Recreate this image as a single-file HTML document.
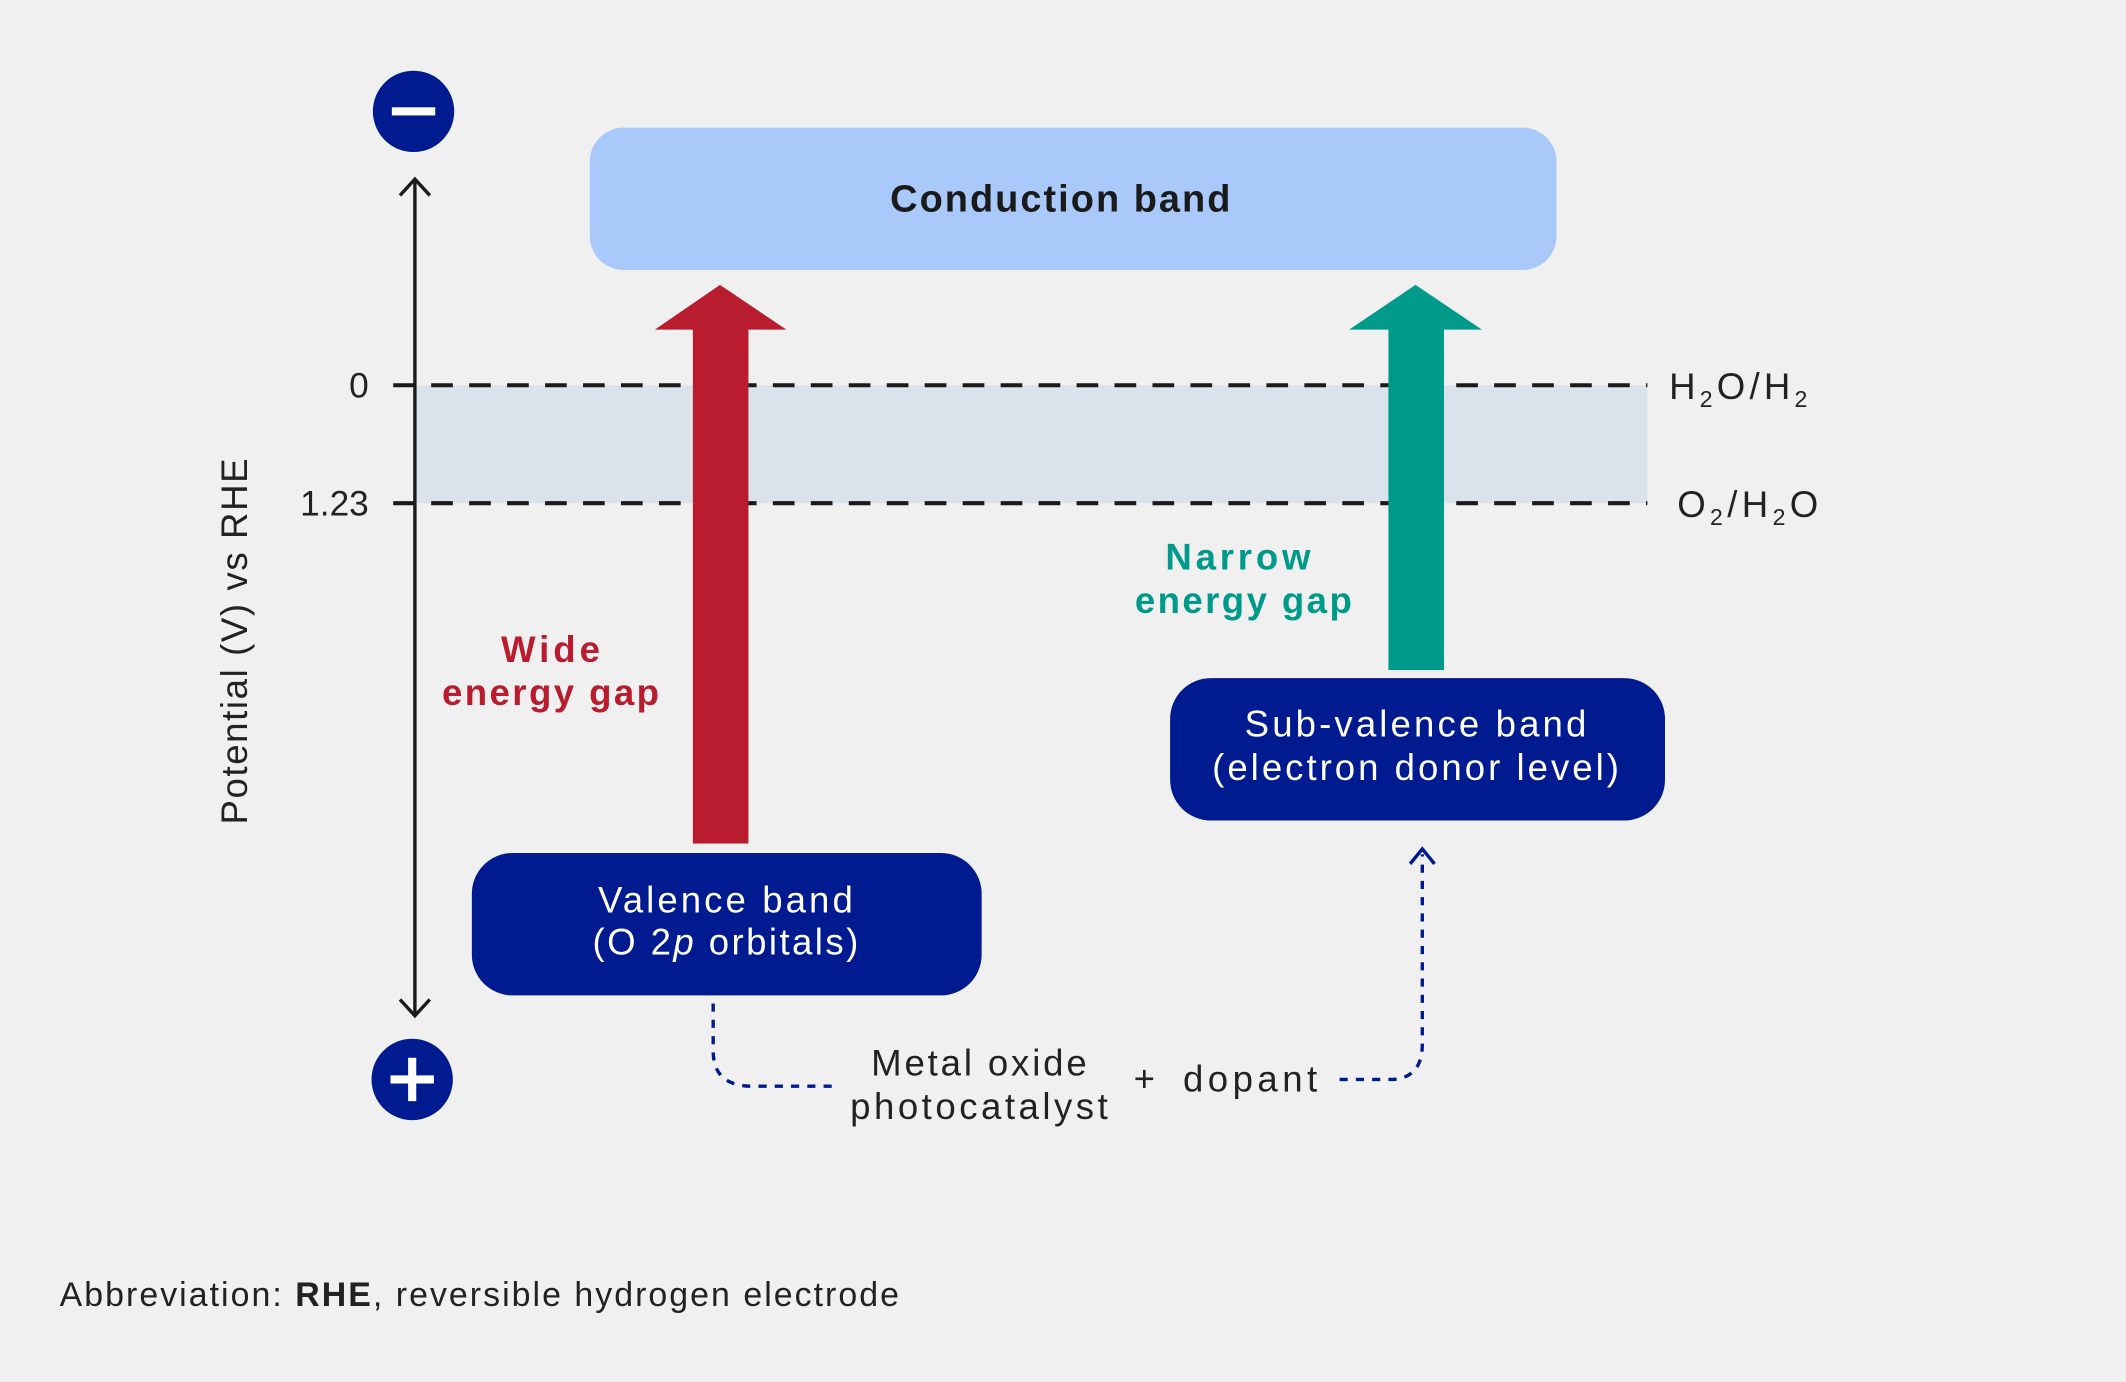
<!DOCTYPE html>
<html><head><meta charset="utf-8"><style>
html,body{margin:0;padding:0;background:#f0f0f0;}
svg{display:block;}
text{font-family:"Liberation Sans",sans-serif;}
</style></head><body>
<svg width="2126" height="1382" viewBox="0 0 1568 1019" xmlns="http://www.w3.org/2000/svg">
<rect width="1568" height="1019" fill="#f0f0f0"/>
<rect x="306" y="284" width="909" height="87" fill="#dae3eb"/>
<line x1="290" y1="284" x2="1215" y2="284" stroke="#1a1a1a" stroke-width="3" stroke-dasharray="16,12"/>
<line x1="290" y1="371" x2="1215" y2="371" stroke="#1a1a1a" stroke-width="3" stroke-dasharray="16,12"/>
<text x="272" y="293" font-size="26" text-anchor="end" fill="#222">0</text>
<text x="272" y="380" font-size="26" text-anchor="end" fill="#222">1.23</text>
<text x="1231" y="294" font-size="27" fill="#222" textLength="102" lengthAdjust="spacing">H<tspan font-size="17" dy="6">2</tspan><tspan dy="-6">O/H</tspan><tspan font-size="17" dy="6">2</tspan></text>
<text x="1237" y="381" font-size="27" fill="#222" textLength="104" lengthAdjust="spacing">O<tspan font-size="17" dy="6">2</tspan><tspan dy="-6">/H</tspan><tspan font-size="17" dy="6">2</tspan><tspan dy="-6">O</tspan></text>
<line x1="306" y1="132" x2="306" y2="748" stroke="#1a1a1a" stroke-width="2.5"/>
<polyline points="295,144 306,132 317,144" fill="none" stroke="#1a1a1a" stroke-width="2.5"/>
<polyline points="295,737 306,749 317,737" fill="none" stroke="#1a1a1a" stroke-width="2.5"/>
<circle cx="305" cy="82" r="30" fill="#001a8f"/>
<rect x="289" y="79" width="32" height="6" fill="#fff"/>
<circle cx="304" cy="796" r="30" fill="#001a8f"/>
<rect x="288" y="793" width="32" height="6" fill="#fff"/>
<rect x="301" y="780" width="6" height="32" fill="#fff"/>
<text transform="translate(182,473) rotate(-90)" font-size="27" text-anchor="middle" fill="#222" textLength="270" lengthAdjust="spacing">Potential (V) vs RHE</text>
<rect x="435" y="94" width="713" height="105" rx="25" fill="#a9c9fb"/>
<text x="782" y="156" font-size="28" font-weight="bold" text-anchor="middle" fill="#1a1a1a" textLength="251" lengthAdjust="spacing">Conduction band</text>
<polygon points="511,622 552,622 552,243 580,243 531,210 483,243 511,243" fill="#b91c2e"/>
<polygon points="1024,494 1065,494 1065,243 1093,243 1044,210 995,243 1024,243" fill="#009a8a"/>
<text x="406" y="488" font-size="27" font-weight="bold" text-anchor="middle" fill="#b91c2e" textLength="73" lengthAdjust="spacing">Wide</text>
<text x="406" y="520" font-size="27" font-weight="bold" text-anchor="middle" fill="#b91c2e" textLength="160" lengthAdjust="spacing">energy gap</text>
<text x="913" y="420" font-size="27" font-weight="bold" text-anchor="middle" fill="#009a8a" textLength="107" lengthAdjust="spacing">Narrow</text>
<text x="917" y="452" font-size="27" font-weight="bold" text-anchor="middle" fill="#009a8a" textLength="160" lengthAdjust="spacing">energy gap</text>
<rect x="348" y="629" width="376" height="105" rx="30" fill="#001a8f"/>
<text x="535" y="673" font-size="27" text-anchor="middle" fill="#fff" textLength="188" lengthAdjust="spacing">Valence band</text>
<text x="535" y="704" font-size="27" text-anchor="middle" fill="#fff" textLength="196" lengthAdjust="spacing">(O 2<tspan font-style="italic">p</tspan> orbitals)</text>
<rect x="863" y="500" width="365" height="105" rx="30" fill="#001a8f"/>
<text x="1044" y="543" font-size="27" text-anchor="middle" fill="#fff" textLength="252" lengthAdjust="spacing">Sub-valence band</text>
<text x="1044" y="575" font-size="27" text-anchor="middle" fill="#fff" textLength="300" lengthAdjust="spacing">(electron donor level)</text>
<path d="M526,740 L526,775 Q526,801 555,801 L615,801" fill="none" stroke="#001a8f" stroke-width="2.5" stroke-dasharray="6,6"/>
<path d="M988,796 L1025,796 Q1049,796 1049,770 L1049,630" fill="none" stroke="#001a8f" stroke-width="2.5" stroke-dasharray="6,6"/>
<polyline points="1040,637 1049,626 1058,637" fill="none" stroke="#001a8f" stroke-width="2.5"/>
<text x="722" y="793" font-size="27" text-anchor="middle" fill="#222" textLength="159" lengthAdjust="spacing">Metal oxide</text>
<text x="722" y="825" font-size="27" text-anchor="middle" fill="#222" textLength="190" lengthAdjust="spacing">photocatalyst</text>
<text x="844" y="805" font-size="27" text-anchor="middle" fill="#222">+</text>
<text x="922" y="805" font-size="27" text-anchor="middle" fill="#222" textLength="99" lengthAdjust="spacing">dopant</text>
<text x="44" y="963" font-size="25" fill="#222" textLength="619" lengthAdjust="spacing">Abbreviation: <tspan font-weight="bold">RHE</tspan>, reversible hydrogen electrode</text>
</svg>
</body></html>
